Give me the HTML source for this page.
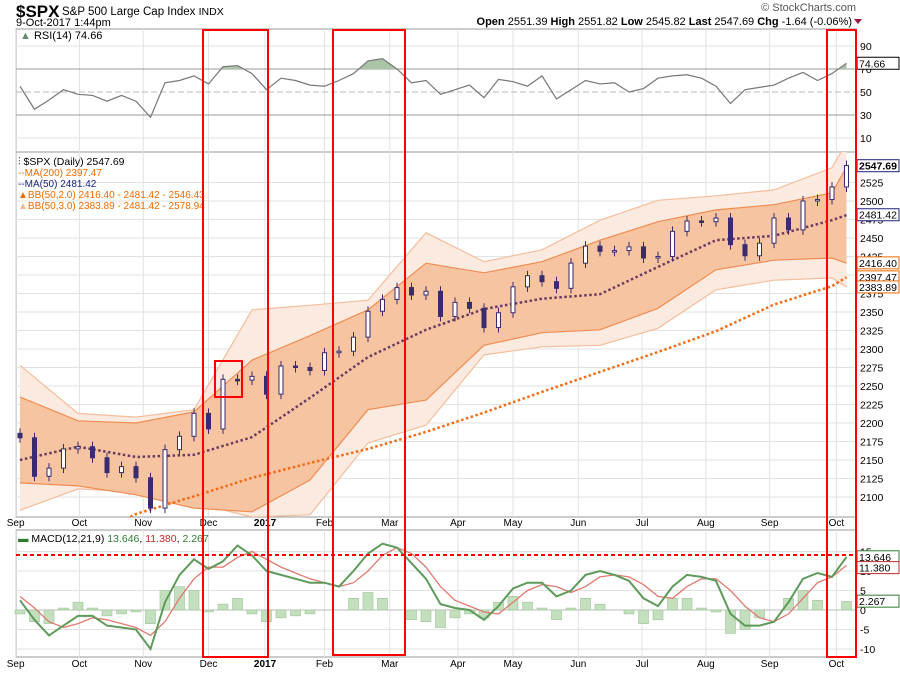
<!DOCTYPE html>
<html><head><meta charset="utf-8"><style>
body{margin:0;background:#fff;}
svg{display:block;font-family:"Liberation Sans",sans-serif;}
</style></head><body>
<svg id="chart" width="900" height="673" viewBox="0 0 900 673" xmlns="http://www.w3.org/2000/svg">
<g id="header">
<text x="16" y="17" font-size="17" font-weight="bold">$SPX</text>
<text x="62" y="15" font-size="11.5">S&amp;P 500 Large Cap Index <tspan font-size="10.5">INDX</tspan></text>
<text x="16" y="26" font-size="11">9-Oct-2017 1:44pm</text>
<text x="856" y="11" font-size="11" fill="#555" text-anchor="end">© StockCharts.com</text>
<text x="852" y="25" font-size="11" text-anchor="end"><tspan font-weight="bold">Open</tspan> 2551.39 <tspan font-weight="bold">High</tspan> 2551.82 <tspan font-weight="bold">Low</tspan> 2545.82 <tspan font-weight="bold">Last</tspan> 2547.69 <tspan font-weight="bold">Chg</tspan> -1.64 (-0.06%)</text>
<polygon points="854,19 862,19 858,24" fill="#a0153e"/>
</g>
<g id="grid"></g>
<g id="bands"></g>
<g id="lines"></g>
<g id="marks"></g>
<g id="axes"></g>
<g id="legends">
<text x="20" y="39" font-size="11"><tspan fill="#6a8a6a">▲</tspan> RSI(14) 74.66</text>
<text x="18" y="165" font-size="10.5"><tspan fill="#1a237e">⫶</tspan> $SPX (Daily) 2547.69</text>
<text x="18" y="176" font-size="10" fill="#f06a00">--MA(200) 2397.47</text>
<text x="18" y="187" font-size="10" fill="#1a237e">--MA(50) 2481.42</text>
<text x="18" y="198" font-size="10" fill="#f06a00">▲BB(50,2.0) 2416.40 - 2481.42 - 2546.43</text>
<text x="18" y="209" font-size="10" fill="#f06a00"><tspan fill="#f5b894">▲</tspan>BB(50,3.0) 2383.89 - 2481.42 - 2578.94</text>
<text x="18" y="542" font-size="10.5"><tspan fill="#2e7d32">▬</tspan> MACD(12,21,9) <tspan fill="#2e7d32">13.646</tspan>, <tspan fill="#c62828">11.380</tspan>, <tspan fill="#2e7d32">2.267</tspan></text>
</g>
<g id="annotations">
<rect x="203" y="30" width="65" height="627" fill="none" stroke="#f00" stroke-width="2"/>
<rect x="333" y="30" width="72" height="625" fill="none" stroke="#f00" stroke-width="2"/>
<rect x="827" y="30" width="29" height="627" fill="none" stroke="#f00" stroke-width="2"/>
<rect x="215" y="361" width="27" height="36" fill="none" stroke="#f00" stroke-width="2"/>
<line x1="16" y1="555" x2="856" y2="555" stroke="#f00" stroke-width="2" stroke-dasharray="4,3"/>
</g>
</svg>
<script>
// ---- data ----
var monthLabels = ["Sep","Oct","Nov","Dec","2017","Feb","Mar","Apr","May","Jun","Jul","Aug","Sep","Oct"];
var monthWeeks = [-0.3,4.1,8.5,13,16.9,21,25.5,30.2,34,38.5,42.9,47.3,51.7,56.3];
var closes = [2180,2128,2139,2165,2168,2153,2133,2141,2126,2085,2164,2182,2213,2192,2259,2258,2263,2239,2277,2275,2271,2295,2297,2316,2351,2367,2383,2373,2378,2344,2363,2355,2329,2349,2384,2399,2391,2382,2416,2439,2432,2433,2438,2423,2425,2459,2473,2472,2477,2441,2426,2443,2477,2461,2500,2502,2519,2548];
var bandWeeks = [0,4,8,12,16,20,24,28,32,36,40,44,48,52,56,57];
var bb2Upper = [2235,2203,2200,2215,2285,2318,2353,2416,2403,2418,2447,2472,2488,2495,2511,2546];
var bb2Lower = [2119,2115,2103,2085,2080,2123,2218,2231,2305,2322,2326,2355,2407,2420,2423,2416];
var bb3Upper = [2278,2213,2208,2218,2353,2359,2366,2457,2418,2434,2474,2501,2507,2515,2545,2579];
var bb3Lower = [2082,2111,2107,2092,2073,2076,2173,2197,2292,2303,2305,2328,2380,2393,2396,2384];
var ma50 = [2150,2168,2154,2157,2181,2234,2289,2326,2354,2368,2374,2411,2447,2453,2474,2481];
var ma200Weeks = [7.3,8,12,16,20,24,28,32,36,40,44,48,52,56,57];
var ma200 = [2070,2077,2101,2126,2146,2165,2188,2214,2242,2269,2296,2324,2360,2385,2397];
var rsi = [55,35,43,52,48,47,42,47,42,28,58,60,64,57,72,73,66,52,62,60,56,55,60,66,77,79,70,58,60,48,52,56,45,61,59,55,64,44,52,60,57,58,50,53,62,64,65,62,55,40,52,54,56,62,67,60,66,75];
var macd = [2.5,-2.5,-6.5,-4,-1.5,-1.5,-4,-4.5,-5,-10,2,9,13,10.5,12.5,16.5,14,10,9,8,7,7,6,10,14.5,17,16,12,8,1.5,0.5,0,-2.5,1,5.5,7,7,3.5,5,9,10,9,7.5,3,1,6,9,8.5,7.5,-1,-4,-4,-3,2,8,9.5,8.5,13.6];
var signal = [3.5,0.5,-3,-4.5,-3.5,-2,-2.5,-3.5,-4.5,-6.5,-3,3,8,11,11,13.5,15,13,11,9.5,8,7,6,7,10,14,16,14.5,11,6,2.5,1,-0.5,-1,2,5,6.5,6,4.5,6,8.5,9,8.5,6.5,3.5,3,6,8,8,5,1,-2,-3,-1,3,7,8.5,11.4];
var priceTicks = [2100,2125,2150,2175,2200,2225,2250,2275,2300,2325,2350,2375,2400,2425,2450,2475,2500,2525];
var rsiTicks = [90,70,50,30,10];
var macdTicks = [15,10,5,0,-5,-10];

// ---- scales ----
var L=16,R=856;
function xw(w){return 20+w*14.5;}
function yP(p){return 238-(p-2450)*0.74;}
function yR(v){return 92-(v-50)*1.15;}
function yM(v){return 610-v*3.9;}
var NS="http://www.w3.org/2000/svg";
function mk(tag,parent,attrs){var e=document.createElementNS(NS,tag);for(var k in attrs)e.setAttribute(k,attrs[k]);parent.appendChild(e);return e;}
var grid=document.getElementById('grid'),bands=document.getElementById('bands'),lines=document.getElementById('lines'),marks=document.getElementById('marks'),axes=document.getElementById('axes');

var panels=[[29,152,'rsi-panel'],[152,517,'price-panel'],[530,657,'macd-panel']];
panels.forEach(function(p){
  var r=mk('rect',grid,{x:L,y:p[0],width:R-L,height:p[1]-p[0],fill:'#fff',stroke:'#999','stroke-width':1});
  
  
});
monthWeeks.forEach(function(w,i){
  var x=xw(w);
  panels.forEach(function(p){
    var l=mk('line',grid,{x1:x,y1:p[0],x2:x,y2:p[1],stroke:'#e2e2e2'});
    
    
  });
  [526,667].forEach(function(yy){
    var t=mk('text',axes,{x:x,y:yy,'font-size':10,'text-anchor':'middle','font-weight':i==4?'bold':'normal'});
    t.textContent=monthLabels[i];
    
    
  });
});
priceTicks.forEach(function(p){
  var y=yP(p);
  var l=mk('line',grid,{x1:L,y1:y,x2:R,y2:y,stroke:'#e2e2e2'});
  
  
  var t=mk('text',axes,{x:860,y:y+4,'font-size':10.5});
  t.textContent=p;
  
  
});
rsiTicks.forEach(function(v){
  var y=yR(v);
  var l=mk('line',grid,{x1:L,y1:y,x2:R,y2:y,stroke:(v==70||v==30)?'#999':(v==50?'#bbb':'#e2e2e2'),'stroke-dasharray':v==50?'6,3':'none'});
  
  
  var t=mk('text',axes,{x:860,y:y+4,'font-size':10.5});
  t.textContent=v;
  
  
});
macdTicks.forEach(function(v){
  var y=yM(v);
  var l=mk('line',grid,{x1:L,y1:y,x2:R,y2:y,stroke:v==0?'#bbb':'#e2e2e2'});
  
  
  var t=mk('text',axes,{x:860,y:y+4,'font-size':10.5});
  t.textContent=v;
  
  
});

var defs=mk('defs',document.getElementById('chart'),{});
var cp=mk('clipPath',defs,{id:'pclip'});mk('rect',cp,{x:L,y:152,width:R-L,height:365});
bands.setAttribute('clip-path','url(#pclip)');lines.setAttribute('clip-path','url(#pclip)');

function pts(ws,vals,fy){return ws.map(function(w,i){return xw(w).toFixed(1)+','+fy(vals[i]).toFixed(1);});}
function area(up,lo){var a=pts(bandWeeks,up,yP),b=pts(bandWeeks,lo,yP).reverse();return a.concat(b).join(' ');}
var b3=mk('polygon',bands,{points:area(bb3Upper,bb3Lower),fill:'#faeae0'});


var b2=mk('polygon',bands,{points:area(bb2Upper,bb2Lower),fill:'#f7c4a2'});


[[bb3Upper,'#f5bd9c','bb3-upper'],[bb3Lower,'#f5bd9c','bb3-lower'],[bb2Upper,'#f08c50','bb2-upper'],[bb2Lower,'#f08c50','bb2-lower']].forEach(function(s){
  var pl=mk('polyline',bands,{points:pts(bandWeeks,s[0],yP).join(' '),fill:'none',stroke:s[1],'stroke-width':1.2});
  
  
});
var m200=mk('polyline',lines,{points:pts(ma200Weeks,ma200,yP).join(' '),fill:'none',stroke:'#f26b12','stroke-width':2.5,'stroke-dasharray':'2.5,2.5'});


var m50=mk('polyline',lines,{points:pts(bandWeeks,ma50,yP).join(' '),fill:'none',stroke:'#6a3c5e','stroke-width':2.5,'stroke-dasharray':'2.5,2.5'});



closes.forEach(function(c,i){
  var o=i>0?closes[i-1]:c+6;
  var x=xw(i),y1=yP(Math.max(o,c)),y2=yP(Math.min(o,c));
  var up=c>=o;
  var wk=mk('line',marks,{x1:x,y1:y1-5,x2:x,y2:y2+5,stroke:'#3a2a6e','stroke-width':1});
  
  
  var r=mk('rect',marks,{x:x-2,y:y1,width:4,height:Math.max(1.5,y2-y1),fill:up?'#fff':'#3a2a6e',stroke:'#3a2a6e','stroke-width':1});
  
  
});

var rsiPts=rsi.map(function(v,i){return [xw(i),yR(v)];});
var cr=mk('clipPath',defs,{id:'rclip'});mk('rect',cr,{x:L,y:29,width:R-L,height:yR(70)-29});
var rf=mk('polygon',marks,{points:[xw(0)+','+yR(70)].concat(rsiPts.map(function(p){return p[0]+','+p[1];})).concat([xw(rsi.length-1)+','+yR(70)]).join(' '),fill:'#a9c4a6','clip-path':'url(#rclip)'});


var rl=mk('polyline',marks,{points:rsiPts.map(function(p){return p[0]+','+p[1];}).join(' '),fill:'none',stroke:'#777','stroke-width':1.2});



macd.forEach(function(v,i){
  var h=v-signal[i],x=xw(i),y0=yM(0),y1=yM(h);
  var r=mk('rect',marks,{x:x-5,y:Math.min(y0,y1),width:10,height:Math.abs(y1-y0),fill:'#c3dfbe',stroke:'#9cc596','stroke-width':0.6});
  
  
});
var sl=mk('polyline',marks,{points:pts(macd.map(function(v,i){return i;}),signal,yM).join(' '),fill:'none',stroke:'#e07a70','stroke-width':1.3});


var ml=mk('polyline',marks,{points:pts(macd.map(function(v,i){return i;}),macd,yM).join(' '),fill:'none',stroke:'#5e9a5a','stroke-width':2});



var tags=[[yR(rsi[rsi.length-1]),'74.66','#000',false,'rsi-value-tag'],[yP(2547.69),'2547.69','#1a237e',true,'price-value-tag'],[yP(2481.42),'2481.42','#1a237e',false,'ma50-value-tag'],[yP(2416.40),'2416.40','#f06a00',false,'bb2-lower-tag'],[yP(2397.47),'2397.47','#f06a00',false,'ma200-value-tag'],[yP(2383.89),'2383.89','#f06a00',false,'bb3-lower-tag'],[yM(13.646),'13.646','#2e7d32',false,'macd-value-tag'],[yM(11.38)+2,'11.380','#c62828',false,'signal-value-tag'],[yM(2.267),'2.267','#2e7d32',false,'histogram-value-tag']];
tags.forEach(function(t){
  var r=mk('rect',axes,{x:857,y:t[0]-6,width:42,height:12,fill:'#fff',stroke:t[2],'stroke-width':1});
  
  
  var tx=mk('text',axes,{x:859,y:t[0]+4,'font-size':10.5,'font-weight':t[3]?'bold':'normal',fill:'#000'});
  tx.textContent=t[1];
  
  
});
</script>
</body></html>
